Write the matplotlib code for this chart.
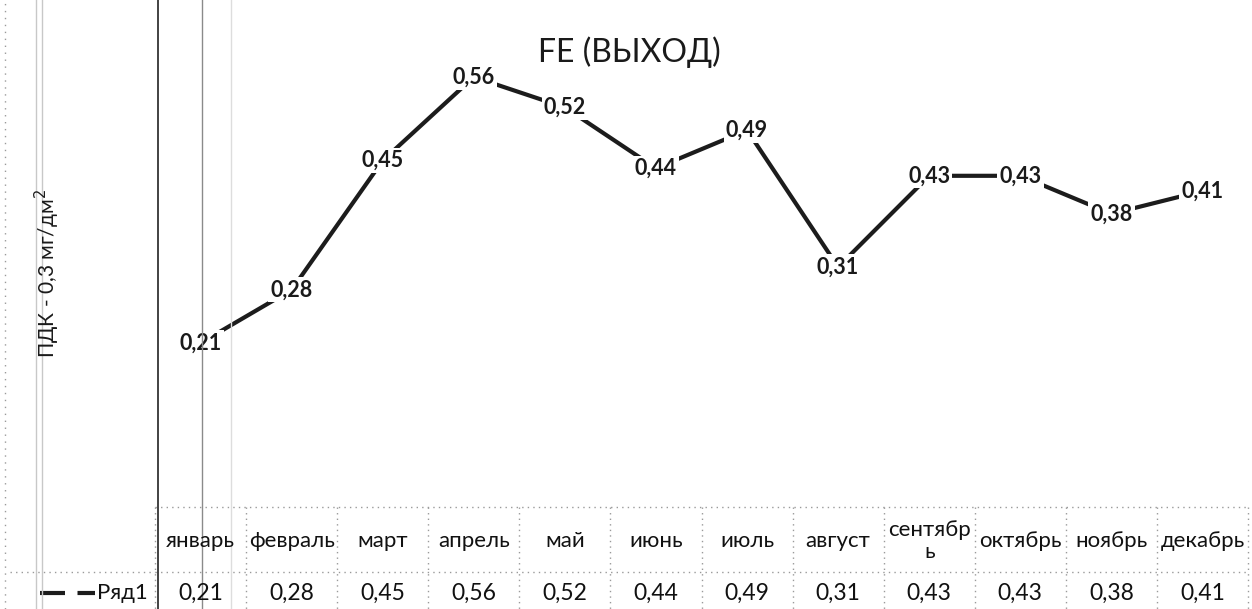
import textwrap
import matplotlib
matplotlib.use("Agg")
import matplotlib.pyplot as plt
import matplotlib.transforms as mtransforms
from matplotlib.lines import Line2D

# --- data ---
months = ["январь", "февраль", "март", "апрель", "май", "июнь",
          "июль", "август", "сентябрь", "октябрь", "ноябрь", "декабрь"]
fe_out = [0.21, 0.28, 0.45, 0.56, 0.52, 0.44, 0.49, 0.31, 0.43, 0.43, 0.38, 0.41]
series_name = "Ряд1"
title = "FE (ВЫХОД)"
ylabel = "ПДК - 0,3 мг/дм$^2$"

W, H = 1252, 609
plt.rcParams['font.family'] = ['Lato', 'DejaVu Sans']

def fmt(v):
    return f"{v:.2f}".replace(".", ",")

def fy(y):
    # pixel row -> figure fraction
    return 1 - y / H

fig = plt.figure(figsize=(W / 100, H / 100), dpi=100)
fig.patch.set_facecolor("white")

# plot area: x from 155 to 1248 px, y=0 at 502 px, y=0.6 at 46 px
ax = fig.add_axes([155 / W, fy(502.6), (1248 - 155) / W, 456 / H])
ax.set_xlim(-0.5, len(months) - 0.5)
ax.set_ylim(0, 0.6)
ax.axis("off")

x = list(range(len(months)))
ax.plot(x, fe_out, color="#1c1c1c", lw=3.0, solid_capstyle="butt", zorder=2)
for xi, v in zip(x, fe_out):
    ax.text(xi, v, fmt(v), ha="center", va="center", fontsize=15.5,
            fontweight="bold", color="#1a1a1a", zorder=3,
            bbox=dict(boxstyle="square,pad=0.1", fc="white", ec="none"))

fig.text(629 / W, fy(52), title, ha="center", va="center", fontsize=23, color="#1a1a1a")
fig.text(47 / W, fy(274), ylabel, ha="center", va="center", rotation=90,
         fontsize=15, color="#1a1a1a")

# --- data table under the chart ---
tb = mtransforms.blended_transform_factory(ax.transData, fig.transFigure)
dot = dict(color="#9a9a9a", lw=1.0, ls=(0, (1, 3)))
for y in (507, 572):
    fig.add_artist(Line2D([155 / W, 1248 / W], [fy(y), fy(y)], transform=fig.transFigure, **dot))
for xi in range(len(months) + 1):
    fig.add_artist(Line2D([xi - 0.5, xi - 0.5], [fy(507), fy(609)], transform=tb, **dot))
fig.add_artist(Line2D([10 / W, 155 / W], [fy(572), fy(572)], transform=fig.transFigure, **dot))

for xi, m, v in zip(x, months, fe_out):
    fig.text(xi, fy(541), textwrap.fill(m, 7), transform=tb, ha="center", va="center",
             fontsize=16, color="#111111", linespacing=1.15)
    fig.text(xi, fy(593), fmt(v), transform=tb, ha="center", va="center",
             fontsize=16.5, color="#111111")

# legend key in the table
fig.add_artist(Line2D([40 / W, 95 / W], [fy(593), fy(593)], transform=fig.transFigure,
                      color="#1c1c1c", lw=3.0, ls=(0, (6, 3))))
fig.text(97 / W, fy(593), series_name, ha="left", va="center", fontsize=16, color="#111111")

# page lines from the scan
for xp, c, lw in [(36, "#c8c8c8", 1.0), (42, "#c8c8c8", 1.0), (158, "#222222", 1.2),
                  (202, "#8a8a8a", 1.0), (231, "#dddddd", 1.0)]:
    fig.add_artist(Line2D([xp / W, xp / W], [0, 1], transform=fig.transFigure, color=c, lw=lw))
fig.add_artist(Line2D([5 / W, 5 / W], [0, 1], transform=fig.transFigure,
                      color="#9a9a9a", lw=1.0, ls=(0, (1, 4))))

fig.savefig("out.png", dpi=100, facecolor="white")
